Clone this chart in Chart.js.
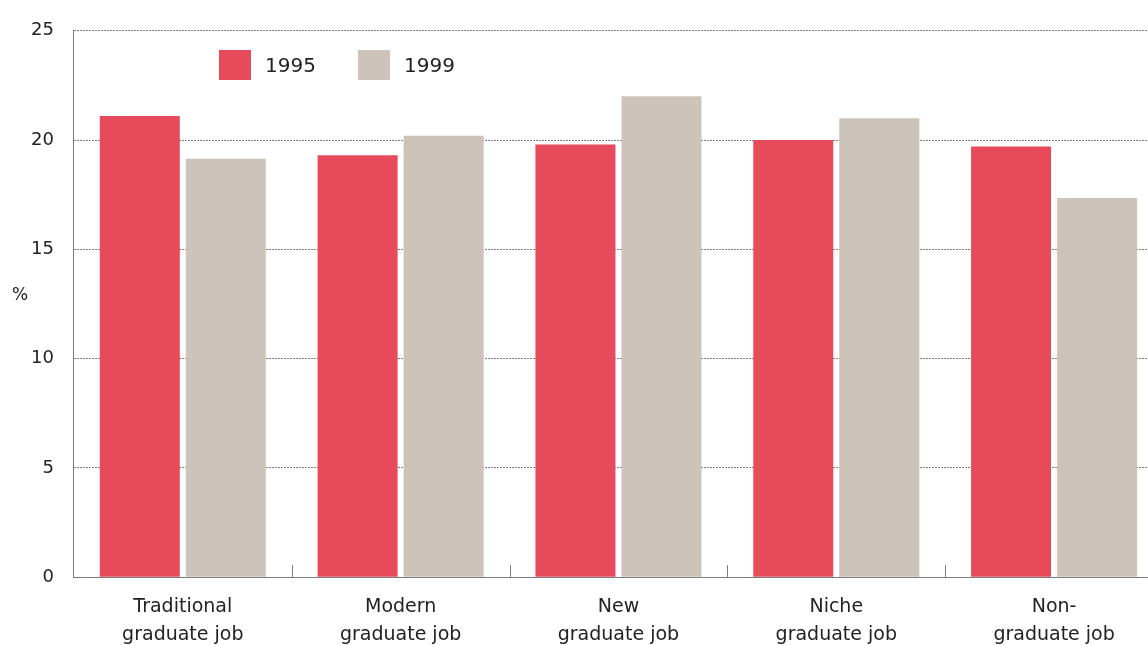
<!DOCTYPE html>
<html>
<head>
<meta charset="utf-8">
<script src="https://cdn.jsdelivr.net/npm/chart.js@4.4.1/dist/chart.umd.min.js"></script>
<style>
  html, body { margin: 0; padding: 0; background: #fff; overflow: hidden; width: 1148px; height: 645px; }
  #wrap { position: relative; width: 1166px; height: 665px; }
</style>
</head>
<body>
<div id="wrap"><canvas id="chart" width="1166" height="665"></canvas></div>
<script>
const categories = [
  ['Traditional', 'graduate job'],
  ['Modern', 'graduate job'],
  ['New', 'graduate job'],
  ['Niche', 'graduate job'],
  ['Non-', 'graduate job']
];
const seriesNames = ['1995', '1999'];
const values1995 = [21.1, 19.3, 19.8, 20.0, 19.7];
const values1999 = [19.15, 20.2, 22.0, 21.0, 17.35];
const yTicks = [0, 5, 10, 15, 20, 25];
const unitLabel = '%';

const red = 'rgb(231, 74, 90)';
const grey = 'rgb(204, 196, 186)';
const lineGrey = '#7d7d7d';
const fontFamily = '"DejaVu Sans", Verdana, sans-serif';

// short upward ticks at category boundaries + the % label + legend inside the plot
const extrasPlugin = {
  id: 'extras',
  afterDraw: (chart) => {
    const { ctx, chartArea: { bottom }, scales: { x, y } } = chart;
    ctx.save();

    ctx.strokeStyle = lineGrey;
    ctx.lineWidth = 1;
    for (let i = 1; i < categories.length; i++) {
      const px = Math.round((x.getPixelForValue(i - 1) + x.getPixelForValue(i)) / 2) + 0.5;
      ctx.beginPath();
      ctx.moveTo(px, bottom);
      ctx.lineTo(px, bottom - 12);
      ctx.stroke();
    }

    ctx.fillStyle = '#222';
    ctx.font = '17px ' + fontFamily;
    ctx.textAlign = 'center';
    ctx.textBaseline = 'middle';
    ctx.fillText(unitLabel, 20, y.getPixelForValue(12.9));

    // legend
    const items = [
      { label: seriesNames[0], color: red, bx: 219 },
      { label: seriesNames[1], color: grey, bx: 358 }
    ];
    ctx.font = '20px ' + fontFamily;
    ctx.textAlign = 'left';
    items.forEach(it => {
      ctx.fillStyle = it.color;
      ctx.fillRect(it.bx, 50, 32, 30);
      ctx.fillStyle = '#222';
      ctx.fillText(it.label, it.bx + 46, 67);
    });

    ctx.restore();
  }
};

new Chart(document.getElementById('chart'), {
  type: 'bar',
  data: {
    labels: categories,
    datasets: [
      {
        label: seriesNames[0],
        data: values1995,
        backgroundColor: red,
        borderWidth: 0,
        categoryPercentage: 0.79,
        barPercentage: 0.93
      },
      {
        label: seriesNames[1],
        data: values1999,
        backgroundColor: grey,
        borderWidth: 0,
        categoryPercentage: 0.79,
        barPercentage: 0.93
      }
    ]
  },
  options: {
    responsive: false,
    animation: false,
    events: [],
    layout: { padding: { top: 21, left: 11, right: 3, bottom: 0 } },
    plugins: {
      legend: { display: false },
      tooltip: { enabled: false }
    },
    scales: {
      x: {
        grid: { display: false, drawTicks: false },
        border: { display: true, color: lineGrey, dash: [2, 1] },
        ticks: {
          color: '#222',
          padding: 16,
          maxRotation: 0,
          autoSkip: false,
          font: { family: fontFamily, size: 19, lineHeight: 1.47 }
        }
      },
      y: {
        min: 0,
        max: 25,
        afterBuildTicks: (axis) => { axis.ticks = yTicks.map(v => ({ value: v })); },
        grid: { color: lineGrey, drawTicks: false, tickBorderDash: [2, 1] },
        border: { display: true, color: lineGrey, dash: [2, 1] },
        ticks: {
          color: '#222',
          padding: 20,
          font: { family: fontFamily, size: 18 }
        }
      }
    }
  },
  plugins: [extrasPlugin]
});
</script>
</body>
</html>
